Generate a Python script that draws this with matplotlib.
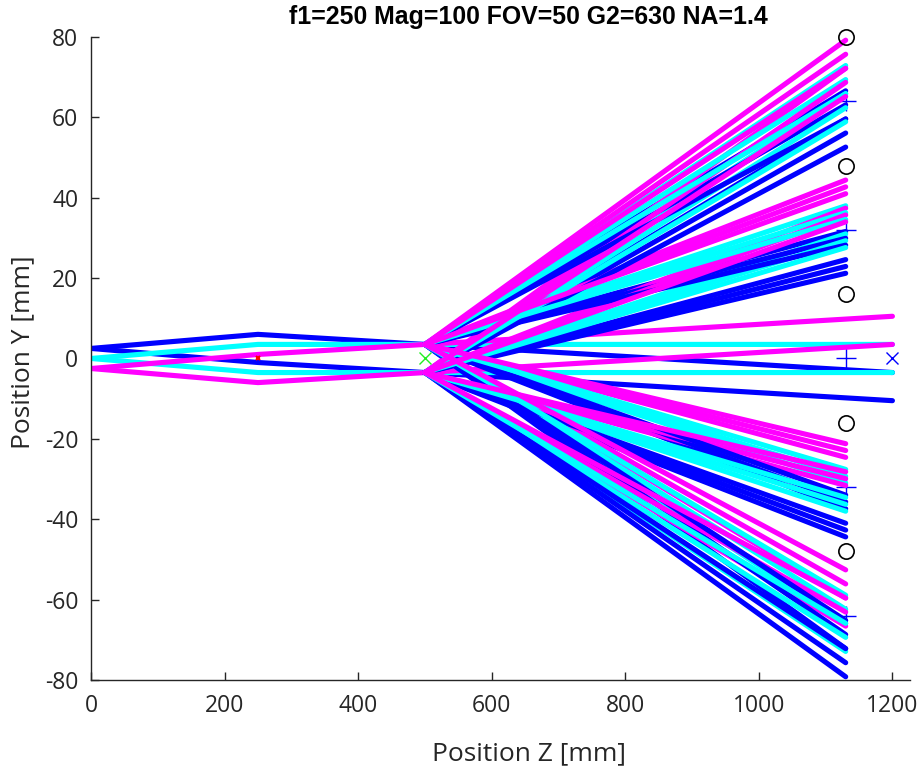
import matplotlib
matplotlib.use("Agg")
import matplotlib.pyplot as plt

plt.rcParams["axes.unicode_minus"] = False

# ---------------------------------------------------------------
# data
# ---------------------------------------------------------------
# incoming marginal rays: stations along z and heights per colour
z_in = [0, 250, 500, 1200]
blue_in = [[2.5, 6.0, 3.5, -3.5], [2.5, -1.0, -3.5, -10.5]]
cyan_in = [[0.0, 3.5, 3.5, 3.5], [0.0, -3.5, -3.5, -3.5]]
magenta_in = [[-2.5, 1.0, 3.5, 10.5], [-2.5, -6.0, -3.5, 3.5]]

# diffracted rays: leave the grating at (500, +3.5) / (500, -3.5)
# and end on the detector plane; rows = order +2, +1, -1, -2,
# columns = wavelength
z_grating = 500
z_det = 1130
y_top, y_bot = 3.5, -3.5

blue_top = [[66.6, 63.1, 59.6], [31.6, 29.9, 28.2],
            [-37.4, -35.7, -34.0], [-72.2, -68.7, -65.2]]
blue_bot = [[59.6, 56.1, 52.6], [24.6, 22.9, 21.2],
            [-44.4, -42.7, -41.0], [-79.2, -75.7, -72.2]]
cyan_top = [[72.9, 69.4, 65.9], [38.0, 36.3, 34.6],
            [-31.0, -29.3, -27.6], [-65.9, -62.4, -58.9]]
cyan_bot = [[65.9, 62.4, 58.9], [31.0, 29.3, 27.6],
            [-38.0, -36.3, -34.6], [-72.9, -69.4, -65.9]]
magenta_top = [[79.2, 75.7, 72.2], [44.4, 42.7, 41.0],
               [-24.6, -22.9, -21.2], [-59.6, -56.1, -52.6]]
magenta_bot = [[72.2, 68.7, 65.2], [37.4, 35.7, 34.0],
               [-31.6, -29.9, -28.2], [-66.6, -63.1, -59.6]]

# detector reference marks
plus_y = [64, 32, 0, -32, -64]
circle_y = [80, 48, 16, -16, -48]
lens_z, focus_z, block_z = 250, 500, 1200

BLUE, CYAN, MAGENTA = "#0000ff", "#00ffff", "#ff00ff"
AX_COL = "#262626"
LW = 3.7

# ---------------------------------------------------------------
# figure
# ---------------------------------------------------------------
fig = plt.figure(figsize=(9.2, 7.72), dpi=100)
ax = fig.add_axes([0.0989, 0.1192, 0.890, 0.8329])

ax.plot([z_det] * len(plus_y), plus_y, linestyle="none", marker="+",
        ms=14, mew=1.0, color=BLUE, zorder=1, clip_on=False)

for col, rays in [(BLUE, blue_in), (CYAN, cyan_in), (MAGENTA, magenta_in)]:
    for ys in rays:
        ax.plot(z_in, ys, color=col, lw=LW, solid_capstyle="round",
                solid_joinstyle="round", zorder=2)

groups = [(BLUE, blue_top, blue_bot),
          (CYAN, cyan_top, cyan_bot),
          (MAGENTA, magenta_top, magenta_bot)]
for k in range(3):
    for col, top, bot in groups:
        for row in range(len(top)):
            ax.plot([z_grating, z_det], [y_top, top[row][k]], color=col,
                    lw=LW, solid_capstyle="round", zorder=2, clip_on=False)
            ax.plot([z_grating, z_det], [y_bot, bot[row][k]], color=col,
                    lw=LW, solid_capstyle="round", zorder=2, clip_on=False)

ax.plot([z_det] * len(circle_y), circle_y, linestyle="none", marker="o",
        ms=11, mew=1.2, mfc="none", mec="black", zorder=3, clip_on=False)
ax.plot([lens_z], [0], linestyle="none", marker="x", ms=3, mew=1.5,
        color="red", zorder=3)
ax.plot([focus_z], [0], linestyle="none", marker="x", ms=9, mew=1.0,
        color="#22ee22", zorder=3)
ax.plot([block_z], [0], linestyle="none", marker="x", ms=9, mew=1.0,
        color=BLUE, zorder=3)

ax.set_xlim(0, 1226)
ax.set_ylim(-80, 80)
ax.set_xticks([0, 200, 400, 600, 800, 1000, 1200])
ax.set_yticks(range(-80, 81, 20))

for s in ["top", "right"]:
    ax.spines[s].set_visible(False)
for s in ["left", "bottom"]:
    ax.spines[s].set_color(AX_COL)
    ax.spines[s].set_linewidth(1.0)
ax.tick_params(direction="in", length=6, width=1.0, colors=AX_COL,
               labelsize=16.5)
ax.tick_params(axis="x", pad=10)
ax.tick_params(axis="y", pad=9)
for lab in ax.get_xticklabels() + ax.get_yticklabels():
    lab.set_family("Open Sans")

ax.set_xlabel("Position Z [mm]", fontsize=19, family="Open Sans",
              color=AX_COL)
ax.xaxis.set_label_coords(0.535, -0.095)
ax.set_ylabel("Position Y [mm]", fontsize=19, family="Open Sans",
              color=AX_COL)
ax.yaxis.set_label_coords(-0.068, 0.51)

fig.text(0.574, 0.978, "f1=250 Mag=100 FOV=50 G2=630 NA=1.4",
         ha="center", va="center", fontsize=17.9, fontweight="bold",
         family="Liberation Sans", color="black")

plt.savefig("out.png", dpi=100, facecolor="white")
